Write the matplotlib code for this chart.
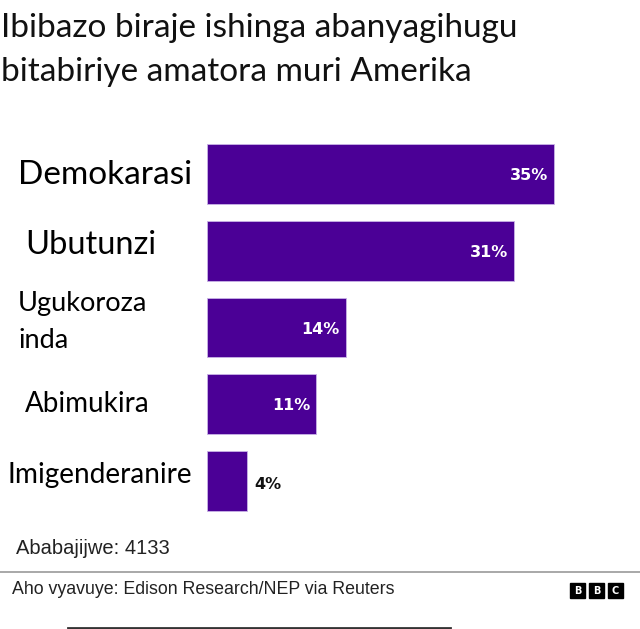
import matplotlib
matplotlib.use("Agg")
import matplotlib.pyplot as plt
from matplotlib.patches import Rectangle

title_lines = ["Ibibazo biraje ishinga abanyagihugu", "bitabiriye amatora muri Amerika"]
categories = ["Demokarasi", "Ubutunzi", "Ugukoroza\ninda", "Abimukira", "Imigenderanire"]
values = [35, 31, 14, 11, 4]
value_labels = ["35%", "31%", "14%", "11%", "4%"]
note = "Ababajijwe: 4133"
source = "Aho vyavuye: Edison Research/NEP via Reuters"

W, H = 640, 629
fig = plt.figure(figsize=(W / 100, H / 100), dpi=100)
fig.patch.set_facecolor("white")

def fx(px):
    return px / W

def fy(py):
    return 1 - py / H

# bar axes
ax_left, ax_right = 207, 207 + 40 * 9.91
ax_top, ax_bot = 135.5, 519.5
ax = fig.add_axes([fx(ax_left), fy(ax_bot), (ax_right - ax_left) / W, (ax_bot - ax_top) / H])
ax.set_xlim(0, 40)
ax.set_ylim(len(values) - 0.5, -0.5)
ax.axis("off")
purple = "#4b0096"
ys = list(range(len(values)))
ax.barh(ys, values, height=0.78, color=purple, edgecolor="#c9b3e6", linewidth=0.6)

for i, (v, lab) in enumerate(zip(values, value_labels)):
    if v >= 10:
        ax.text(v - 0.6, i + 0.02, lab, ha="right", va="center", color="white",
                fontsize=11.5, fontweight="bold", family="DejaVu Sans")
    else:
        ax.text(v + 0.8, i + 0.05, lab, ha="left", va="center", color="#111111",
                fontsize=11.5, fontweight="bold", family="DejaVu Sans")

# category labels
lab_font = "Lato"
label_pos = [(18, 175, 24), (25, 245, 23.5), (18, 322, 19.5), (25, 404, 20), (7, 475, 20.2)]
for cat, (x, y, fs) in zip(categories, label_pos):
    fig.text(fx(x), fy(y), cat, ha="left", va="center", fontsize=fs,
             family=lab_font, color="black", linespacing=1.62)

# title
fig.text(fx(1), fy(28), title_lines[0], ha="left", va="center", fontsize=24,
         family=lab_font, color="#111111")
fig.text(fx(1), fy(72), title_lines[1], ha="left", va="center", fontsize=24,
         family=lab_font, color="#111111")

# note
fig.text(fx(16), fy(548), note, ha="left", va="center", fontsize=14.5,
         family="Liberation Sans", color="#222222")

# separator line
fig.add_artist(plt.Line2D([0, 1], [fy(572), fy(572)], color="#999999", linewidth=1.2))

# source
fig.text(fx(12), fy(590), source, ha="left", va="center", fontsize=12.8,
         family="Liberation Sans", color="#222222")

# BBC logo
for k, letter in enumerate("BBC"):
    x0 = 570 + k * 19
    fig.add_artist(Rectangle((fx(x0), fy(598)), 15 / W, 15 / H, color="black",
                             transform=fig.transFigure))
    fig.text(fx(x0 + 7.5), fy(590.5), letter, ha="center", va="center", color="white",
             fontsize=7, fontweight="bold", family="DejaVu Sans")

# bottom dark strip
fig.add_artist(plt.Line2D([fx(68), fx(450)], [fy(628), fy(628)], color="#333333", linewidth=2))

fig.savefig("out.png", dpi=100, facecolor="white")
